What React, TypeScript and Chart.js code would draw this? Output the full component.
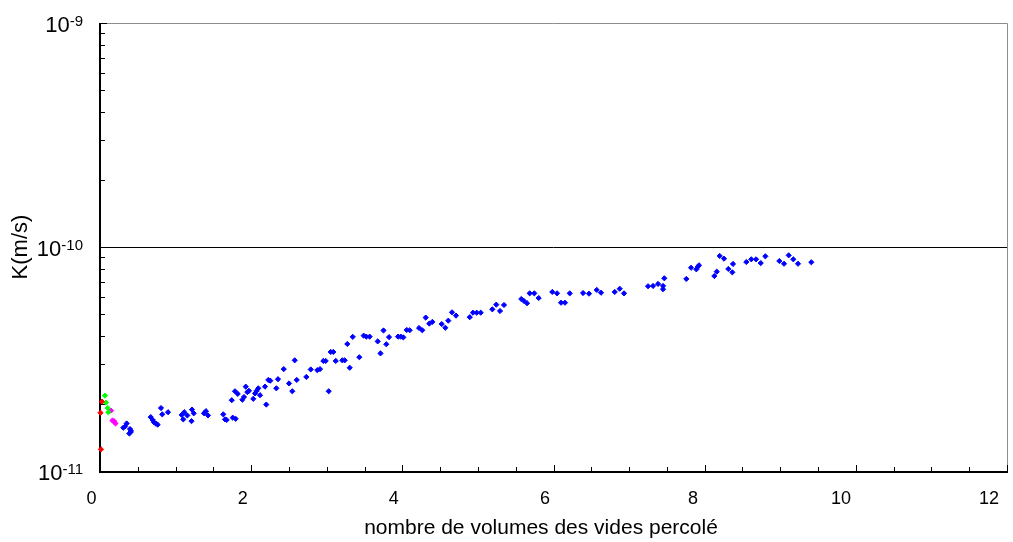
import React, { useEffect, useRef } from "react";
import { Chart, registerables } from "chart.js";

Chart.register(...registerables);

// Hydraulic conductivity K (m/s) vs. number of pore volumes percolated
const K_UNIT = 1e-11;

const blueX = [
  0.308, 0.331, 0.353, 0.397, 0.41, 0.388, 0.404,
  0.671, 0.697, 0.714, 0.737, 0.763, 0.807, 0.824, 0.9,
  1.081, 1.115, 1.155, 1.102, 1.217, 1.24, 1.211,
  1.376, 1.402, 1.429, 1.631, 1.654, 1.676, 1.756, 1.795, 1.743, 1.786, 1.822,
  1.883, 1.905, 1.928, 1.949, 1.971, 2.028, 2.051, 2.073, 2.094, 2.117,
  2.183, 2.2, 2.227, 2.253, 2.333, 2.355, 2.431, 2.501, 2.544, 2.576, 2.603,
  2.73, 2.788, 2.875, 2.911, 2.955, 2.986, 3.026, 3.052, 3.087, 3.119,
  3.206, 3.238, 3.272, 3.304, 3.344, 3.431, 3.489, 3.523, 3.568,
  3.674, 3.711, 3.751, 3.788, 3.824,
  3.943, 3.979, 4.013, 4.058, 4.098, 4.221, 4.264, 4.309, 4.357, 4.397,
  4.521, 4.569, 4.608, 4.657, 4.71, 4.892, 4.935, 4.984, 5.037,
  5.191, 5.243, 5.292, 5.345, 5.574, 5.61, 5.65, 5.685, 5.746, 5.804,
  5.984, 6.047, 6.1, 6.152, 6.215,
  6.391, 6.47, 6.572, 6.629, 6.81, 6.876, 6.933,
  7.251, 7.317, 7.383, 7.449, 7.449, 7.466, 7.757, 7.82, 7.89, 7.908, 7.925,
  8.128, 8.16, 8.199, 8.256, 8.313, 8.366, 8.375,
  8.551, 8.617, 8.68, 8.742, 8.803, 8.988, 9.05, 9.112, 9.173, 9.235, 9.411,
];
// K in units of 1e-11 m/s
const blueK = [
  1.56, 1.58, 1.63, 1.54, 1.51, 1.47, 1.49,
  1.74, 1.69, 1.65, 1.63, 1.61, 1.91, 1.79, 1.83,
  1.78, 1.83, 1.77, 1.7, 1.88, 1.81, 1.67,
  1.81, 1.85, 1.77, 1.79, 1.7, 1.69, 1.73, 1.71, 2.07, 2.27, 2.21,
  2.08, 2.14, 2.38, 2.25, 2.28, 2.1, 2.22, 2.28, 2.34, 2.18,
  2.38, 1.98, 2.55, 2.53, 2.34, 2.57, 2.85, 2.46, 2.27, 3.12, 2.55,
  2.63, 2.84, 2.82, 2.85, 3.1, 3.1, 2.27, 3.4, 3.4, 3.1,
  3.12, 3.12, 3.69, 2.89, 3.97, 3.22, 4.02, 3.98, 3.98,
  3.79, 3.35, 4.24, 3.68, 3.96,
  3.98, 3.98, 3.95, 4.26, 4.25, 4.35, 4.25, 4.84, 4.55, 4.63,
  4.53, 4.36, 4.69, 5.11, 4.94, 4.86, 5.09, 5.09, 5.09,
  5.27, 5.53, 5.18, 5.51, 5.86, 5.74, 5.61, 6.21, 6.21, 5.92,
  6.3, 6.21, 5.64, 5.64, 6.21,
  6.23, 6.19, 6.43, 6.25, 6.3, 6.51, 6.21,
  6.68, 6.7, 6.84, 6.7, 6.48, 7.25, 7.2, 8.08, 7.95, 8.14, 8.29,
  7.42, 7.76, 9.12, 8.87, 7.98, 7.71, 8.4,
  8.57, 8.81, 8.81, 8.48, 9.09, 8.66, 8.42, 9.18, 8.81, 8.42, 8.55,
];

const redX = [0.026, 0.007, 0.013];
const redK = [2.04, 1.82, 1.25];
const greenX = [0.066, 0.079, 0.102, 0.11];
const greenK = [2.17, 2.02, 1.91, 1.83];
const magentaX = [0.146, 0.165, 0.185, 0.205];
const magentaK = [1.86, 1.68, 1.67, 1.63];

const xMajorTicks = [0, 2, 4, 6, 8, 10, 12];
const xTickLabels = ["0", "2", "4", "6", "8", "10", "12"];
const xMinorStep = 0.5;
const yDecades = [1e-11, 1e-10, 1e-9];
const yDecadeExponents = ["-11", "-10", "-9"];
const yMinorFactors = [2, 3, 4, 5, 6, 7, 8, 9];
const gridValue = 1e-10;

const xTitle = "nombre de volumes des vides percolé";
const yTitle = "K(m/s)";

const FONT = "'Liberation Sans', Arial, sans-serif";

const toPoints = (xs: number[], ks: number[]) =>
  xs.map((x, i) => ({ x, y: ks[i] * K_UNIT }));

const axesPlugin = {
  id: "axesPlugin",
  beforeDatasetsDraw(chart: any) {
    const { ctx, chartArea: a, scales } = chart;
    const xs = scales.x;
    const ys = scales.y;
    ctx.save();
    // grey frame (top and right)
    ctx.strokeStyle = "#8c8c8c";
    ctx.lineWidth = 1;
    ctx.beginPath();
    ctx.moveTo(a.left, a.top + 0.5);
    ctx.lineTo(a.right + 0.5, a.top + 0.5);
    ctx.lineTo(a.right + 0.5, a.bottom);
    ctx.stroke();

    // horizontal grid line at 1e-10
    ctx.strokeStyle = "#000";
    const gy = Math.round(ys.getPixelForValue(gridValue)) + 0.5;
    ctx.beginPath();
    ctx.moveTo(a.left, gy);
    ctx.lineTo(a.right, gy);
    ctx.stroke();

    // y ticks (inward)
    ctx.beginPath();
    for (let d = 0; d < yDecades.length; d++) {
      const py = Math.round(ys.getPixelForValue(yDecades[d])) + 0.5;
      ctx.moveTo(a.left, py);
      ctx.lineTo(a.left + 7, py);
      if (d < yDecades.length - 1) {
        for (const f of yMinorFactors) {
          const pm = Math.round(ys.getPixelForValue(yDecades[d] * f)) + 0.5;
          ctx.moveTo(a.left, pm);
          ctx.lineTo(a.left + 5, pm);
        }
      }
    }
    // x ticks (inward)
    const xMax = xMajorTicks[xMajorTicks.length - 1];
    for (let v = 0; v <= xMax + 1e-9; v += xMinorStep) {
      const isMajor = xMajorTicks.some((m) => Math.abs(m - v) < 1e-9);
      const px = Math.round(xs.getPixelForValue(v)) + 0.5;
      ctx.moveTo(px, a.bottom);
      ctx.lineTo(px, a.bottom - (isMajor ? 6 : 4));
    }
    ctx.stroke();

    // black axis lines
    ctx.lineWidth = 2;
    ctx.beginPath();
    ctx.moveTo(a.left, a.top);
    ctx.lineTo(a.left, a.bottom + 1);
    ctx.lineTo(a.right + 1, a.bottom + 1);
    ctx.stroke();
    ctx.restore();
  },
  afterDraw(chart: any) {
    const { ctx, chartArea: a, scales } = chart;
    const xs = scales.x;
    const ys = scales.y;
    ctx.save();
    ctx.fillStyle = "#000";

    // x tick labels
    ctx.font = `18px ${FONT}`;
    ctx.textAlign = "center";
    ctx.textBaseline = "alphabetic";
    xMajorTicks.forEach((v, i) => {
      const px = xs.getPixelForValue(v) - 8.5 - Math.max(0, v - 6) * 1.6;
      ctx.fillText(xTickLabels[i], px, a.bottom + 33);
    });

    // y tick labels 10^n
    ctx.textAlign = "left";
    const rightEdge = 83;
    yDecades.forEach((v, i) => {
      const py = ys.getPixelForValue(v);
      ctx.font = `22px ${FONT}`;
      const w1 = ctx.measureText("10").width;
      ctx.font = `15px ${FONT}`;
      const w2 = ctx.measureText(yDecadeExponents[i]).width;
      const x0 = rightEdge - w1 - w2;
      ctx.font = `22px ${FONT}`;
      ctx.fillText("10", x0, py + 8.5);
      ctx.font = `15px ${FONT}`;
      ctx.fillText(yDecadeExponents[i], x0 + w1, py + 2.5);
    });

    // x title
    ctx.font = `21px ${FONT}`;
    ctx.textAlign = "center";
    ctx.fillText(xTitle, 541, a.bottom + 62.5);

    // y title
    ctx.save();
    ctx.translate(27, (a.top + a.bottom) / 2);
    ctx.rotate(-Math.PI / 2);
    ctx.font = `22px ${FONT}`;
    ctx.textAlign = "center";
    ctx.fillText(yTitle, 0, 0);
    ctx.restore();

    ctx.restore();
  },
};

export default function App() {
  const canvasRef = useRef<HTMLCanvasElement | null>(null);

  useEffect(() => {
    document.body.style.margin = "0";
    const canvas = canvasRef.current;
    if (!canvas) return;
    const mk = (label: string, xs: number[], ks: number[], color: string) => ({
      label,
      data: toPoints(xs, ks),
      pointStyle: "rectRot",
      pointRadius: 2.6,
      pointBorderWidth: 1,
      pointBackgroundColor: color,
      pointBorderColor: color,
      showLine: false,
      clip: false,
    });
    const chart = new Chart(canvas, {
      type: "scatter",
      data: {
        datasets: [
          mk("série bleue", blueX, blueK, "#0000ff"),
          mk("série rouge", redX, redK, "#ff0000"),
          mk("série verte", greenX, greenK, "#00ff00"),
          mk("série magenta", magentaX, magentaK, "#ff00ff"),
        ] as any,
      },
      options: {
        animation: false,
        responsive: true,
        maintainAspectRatio: false,
        layout: { padding: { left: 100, right: 6, top: 23, bottom: 71 } },
        plugins: { legend: { display: false }, tooltip: { enabled: false } },
        scales: {
          x: { type: "linear", min: 0, max: 12, display: false },
          y: { type: "logarithmic", min: 1e-11, max: 1e-9, display: false },
        },
      },
      plugins: [axesPlugin],
    });
    return () => chart.destroy();
  }, []);

  return (
    <div style={{ position: "absolute", left: 0, top: 0, width: 1013, height: 542, background: "#fff" }}>
      <canvas ref={canvasRef} />
    </div>
  );
}
